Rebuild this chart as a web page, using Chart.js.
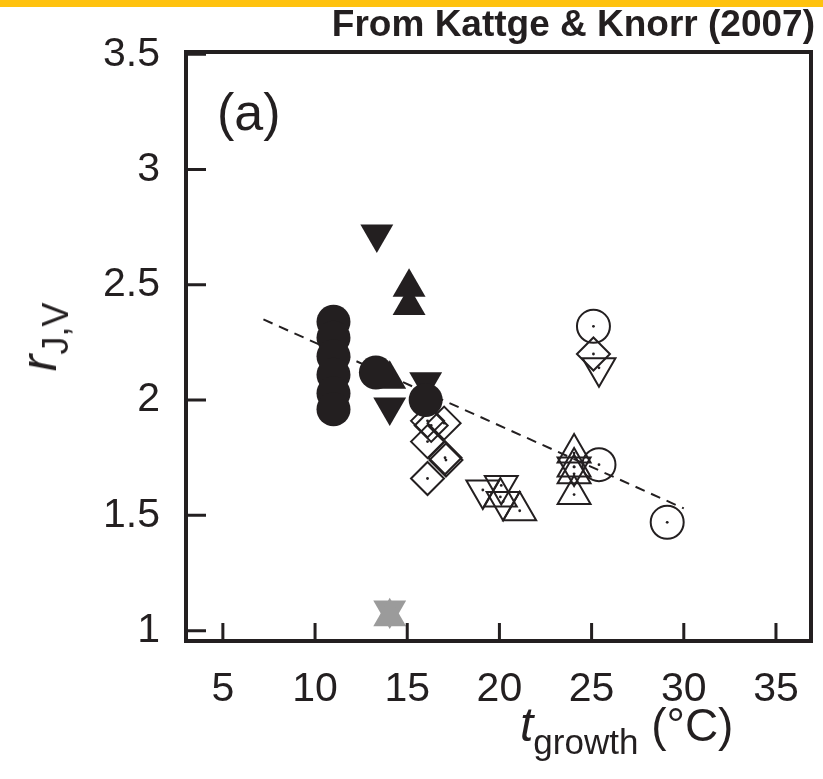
<!DOCTYPE html>
<html><head><meta charset="utf-8">
<script src="https://cdn.jsdelivr.net/npm/chart.js@4.4.1/dist/chart.umd.min.js"></script>
<style>
html,body{margin:0;padding:0;background:#fff;}
#wrap{position:relative;width:823px;height:779px;overflow:hidden;font-family:"Liberation Sans",Arial,Helvetica,sans-serif;color:#231f20;}
#bar{position:absolute;left:0;top:0;width:823px;height:7px;background:#FFC20E;}
#c{position:absolute;left:0;top:0;}
#src{position:absolute;right:8px;top:5px;font-weight:bold;font-size:37px;line-height:1;white-space:nowrap;}
#panel{position:absolute;left:217px;top:86px;font-size:52px;line-height:1;}
#xt{position:absolute;left:520px;top:701px;font-size:46px;line-height:1;white-space:nowrap;}
#xt i{font-size:48px;}
#xt sub{font-size:35px;vertical-align:-13px;}
#yt{position:absolute;left:44px;top:337px;transform:translate(-50%,-50%) rotate(-90deg);font-size:46px;line-height:1;white-space:nowrap;}
#yt i{font-size:50px;}
#yt sub{font-size:36px;vertical-align:-12px;}
</style>
</head><body>
<div id="wrap">
<canvas id="c" width="823" height="779"></canvas>
<div id="bar"></div>
<div id="src">From Kattge &amp; Knorr (2007)</div>
<div id="panel">(a)</div>
<div id="xt"><i>t</i><sub>growth</sub> (°C)</div>
<div id="yt"><i>r</i><sub>J,V</sub></div>
</div>
<script>
// ---- data ----
const xTicks = [5, 10, 15, 20, 25, 30, 35];
const yTicks = [1, 1.5, 2, 2.5, 3, 3.5];

const filledCircleX = [11, 11, 11, 11, 11, 11, 13.3, 16.0];
const filledCircleY = [2.34, 2.27, 2.19, 2.11, 2.03, 1.96, 2.12, 2.00];

const filledUpX = [15.1, 15.1, 14.05];
const filledUpY = [2.49, 2.41, 2.09];

const filledDownX = [13.35, 14.05, 16.0];
const filledDownY = [2.72, 1.97, 2.08];

const grayUpX = [14.05];
const grayUpY = [1.06];
const grayDownX = [14.05];
const grayDownY = [1.09];

const openCircleX = [25.1, 25.4, 29.1];
const openCircleY = [2.32, 1.72, 1.47];

const openDiamondX = [16.1, 16.3, 17.0, 16.1, 17.05, 17.1, 16.1, 25.1];
const openDiamondY = [1.91, 1.89, 1.90, 1.82, 1.75, 1.74, 1.66, 2.20];

const openUpX = [20.05, 21.1, 24.05, 24.05, 24.05, 24.05];
const openUpY = [1.58, 1.52, 1.77, 1.71, 1.68, 1.59];

const openDownX = [19.1, 20.1, 20.2, 24.05, 25.4];
const openDownY = [1.61, 1.63, 1.56, 1.71, 2.14];

const fitLineX = [7.2, 30.0];
const fitLineY = [2.35, 1.53];

// ---- helpers ----
const pts = (xs, ys) => xs.map((x, i) => ({x: x, y: ys[i]}));
const INK = '#231f20';
const GRAY = '#9b9b9b';

const framePlugin = {
  id: 'frame',
  afterDraw(chart) {
    const {ctx, chartArea: a, scales} = chart;
    ctx.save();
    ctx.strokeStyle = INK;
    ctx.lineCap = 'butt';
    ctx.lineWidth = 3;
    ctx.beginPath();
    xTicks.forEach(v => {
      const px = scales.x.getPixelForValue(v);
      ctx.moveTo(px, a.bottom);
      ctx.lineTo(px, a.bottom - 18);
    });
    yTicks.forEach(v => {
      const py = scales.y.getPixelForValue(v);
      ctx.moveTo(a.left, py);
      ctx.lineTo(a.left + 20, py);
    });
    ctx.stroke();
    ctx.lineWidth = 4;
    ctx.strokeRect(a.left, a.top, a.right - a.left, a.bottom - a.top);
    ctx.restore();
  }
};

const openStyle = {backgroundColor: 'rgba(0,0,0,0)', borderColor: INK, borderWidth: 2};
const dotData = [].concat(
  pts(openCircleX, openCircleY), pts(openDiamondX, openDiamondY),
  pts(openUpX, openUpY), pts(openDownX, openDownY));

new Chart(document.getElementById('c'), {
  type: 'scatter',
  data: {
    datasets: [
      {label: 'fit', data: pts(fitLineX, fitLineY), showLine: true, borderColor: INK,
       borderWidth: 2, borderDash: [10, 7], pointRadius: 0, order: 10},
      Object.assign({label: 'open circles', data: pts(openCircleX, openCircleY), pointStyle: 'circle', pointRadius: 16.5, order: 8}, openStyle),
      Object.assign({label: 'open diamonds', data: pts(openDiamondX, openDiamondY), pointStyle: 'rectRot', pointRadius: 16.5, order: 8}, openStyle),
      Object.assign({label: 'open up', data: pts(openUpX, openUpY), pointStyle: 'triangle', pointRadius: 19, order: 8}, openStyle),
      Object.assign({label: 'open down', data: pts(openDownX, openDownY), pointStyle: 'triangle', pointRotation: 180, pointRadius: 19, order: 8}, openStyle),
      {label: 'dots', data: dotData, pointStyle: 'circle', pointRadius: 1.4, backgroundColor: INK, borderWidth: 0, order: 7},
      {label: 'gray up', data: pts(grayUpX, grayUpY), pointStyle: 'triangle', pointRadius: 19, backgroundColor: GRAY, borderWidth: 0, order: 5},
      {label: 'gray down', data: pts(grayDownX, grayDownY), pointStyle: 'triangle', pointRotation: 180, pointRadius: 19, backgroundColor: GRAY, borderWidth: 0, order: 5},
      {label: 'filled up', data: pts(filledUpX, filledUpY), pointStyle: 'triangle', pointRadius: 19, backgroundColor: INK, borderWidth: 0, order: 3},
      {label: 'filled down', data: pts(filledDownX, filledDownY), pointStyle: 'triangle', pointRotation: 180, pointRadius: 19, backgroundColor: INK, borderWidth: 0, order: 3},
      {label: 'filled circles', data: pts(filledCircleX, filledCircleY), pointStyle: 'circle', pointRadius: 17, backgroundColor: INK, borderWidth: 0, order: 2}
    ]
  },
  options: {
    responsive: false,
    animation: false,
    events: [],
    layout: {autoPadding: false, padding: {top: 52, right: 12, left: 0, bottom: 0}},
    plugins: {legend: {display: false}, tooltip: {enabled: false}, title: {display: false}},
    scales: {
      x: {
        type: 'linear', min: 3, max: 36.9,
        grid: {display: false, drawTicks: false},
        border: {display: false},
        afterBuildTicks: s => { s.ticks = xTicks.map(v => ({value: v})); },
        afterFit: s => { s.height = 138; s.paddingLeft = 0; s.paddingRight = 0; },
        ticks: {color: INK, padding: 24, font: {family: '"Liberation Sans", Arial, sans-serif', size: 41}, callback: v => String(v)}
      },
      y: {
        type: 'linear', min: 0.955, max: 3.51,
        grid: {display: false, drawTicks: false},
        border: {display: false},
        afterBuildTicks: s => { s.ticks = yTicks.map(v => ({value: v})); },
        afterFit: s => { s.width = 186; s.paddingTop = 0; s.paddingBottom = 0; },
        ticks: {color: INK, padding: 26, font: {family: '"Liberation Sans", Arial, sans-serif', size: 41}, callback: v => String(v)}
      }
    }
  },
  plugins: [framePlugin]
});
</script>
</body></html>
